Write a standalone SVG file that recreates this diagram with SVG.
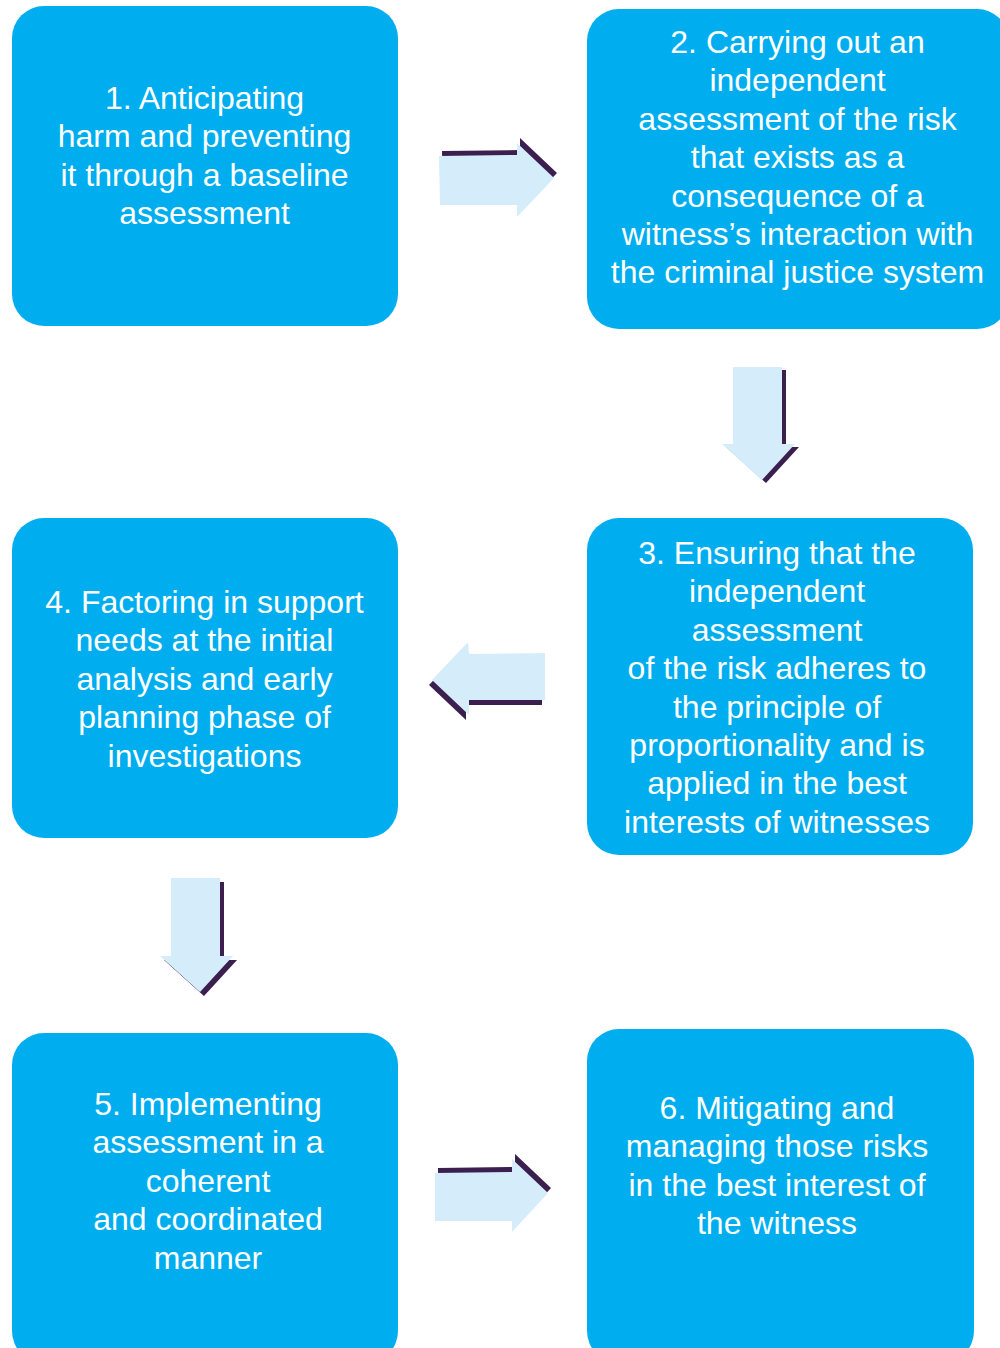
<svg xmlns="http://www.w3.org/2000/svg" width="1000" height="1348" viewBox="0 0 1000 1348">
  <style>
    .box { fill: #00AEEF; }
    .lbl { font-family: "Liberation Sans", Arial, Helvetica, sans-serif; font-size: 32px; fill: #FFFFFF; text-anchor: middle; }
    .arr { fill: #D5EDFA; }
    .shd { fill: #3B1F4E; }
  </style>
  <rect width="1000" height="1348" fill="#FFFFFF"/>

  <g id="connectors">
    <g id="arrow-1-2">
      <polygon class="shd" transform="translate(3,-5)" points="439,156 517,155 517,143 554,178 517,217 517,205 440,205"/>
      <polygon class="arr" points="439,156 517,155 517,143 554,178 517,217 517,205 440,205"/>
    </g>
    <g id="arrow-2-3">
      <polygon class="shd" transform="translate(4,3)" points="733,367 782,367 782,444 795,444 762,480 722,444 733,444"/>
      <polygon class="arr" points="733,367 782,367 782,444 795,444 762,480 722,444 733,444"/>
    </g>
    <g id="arrow-3-4">
      <polygon class="shd" transform="translate(-3,5)" points="545,653 469,654 468,642 432,680 469,715 469,700 545,700"/>
      <polygon class="arr" points="545,653 469,654 468,642 432,680 469,715 469,700 545,700"/>
    </g>
    <g id="arrow-4-5">
      <polygon class="shd" transform="translate(4,4)" points="171,878 220,878 220,956 233,956 200,992 160,956 171,956"/>
      <polygon class="arr" points="171,878 220,878 220,956 233,956 200,992 160,956 171,956"/>
    </g>
    <g id="arrow-5-6">
      <polygon class="shd" transform="translate(3,-5)" points="435,1173 512,1172 512,1159 548,1193 512,1232 512,1221 435,1221"/>
      <polygon class="arr" points="435,1173 512,1172 512,1159 548,1193 512,1232 512,1221 435,1221"/>
    </g>
  </g>

  <g id="node1">
    <rect class="box" x="12" y="6" width="386" height="320" rx="32" ry="32"/>
    <text class="lbl" x="204.5" y="109">1. Anticipating</text>
    <text class="lbl" x="204.5" y="147.4">harm and preventing</text>
    <text class="lbl" x="204.5" y="185.8">it through a baseline</text>
    <text class="lbl" x="204.5" y="224.2">assessment</text>
  </g>

  <g id="node2">
    <rect class="box" x="587" y="9" width="422" height="320" rx="32" ry="32"/>
    <text class="lbl" x="797.5" y="53">2. Carrying out an</text>
    <text class="lbl" x="797.5" y="91.4">independent</text>
    <text class="lbl" x="797.5" y="129.8">assessment of the risk</text>
    <text class="lbl" x="797.5" y="168.2">that exists as a</text>
    <text class="lbl" x="797.5" y="206.6">consequence of a</text>
    <text class="lbl" x="797.5" y="245">witness’s interaction with</text>
    <text class="lbl" x="797.5" y="283.4">the criminal justice system</text>
  </g>

  <g id="node3">
    <rect class="box" x="587" y="518" width="386" height="337" rx="32" ry="32"/>
    <text class="lbl" x="777" y="564">3. Ensuring that the</text>
    <text class="lbl" x="777" y="602.4">independent</text>
    <text class="lbl" x="777" y="640.8">assessment</text>
    <text class="lbl" x="777" y="679.2">of the risk adheres to</text>
    <text class="lbl" x="777" y="717.6">the principle of</text>
    <text class="lbl" x="777" y="756">proportionality and is</text>
    <text class="lbl" x="777" y="794.4">applied in the best</text>
    <text class="lbl" x="777" y="832.8">interests of witnesses</text>
  </g>

  <g id="node4">
    <rect class="box" x="12" y="518" width="386" height="320" rx="32" ry="32"/>
    <text class="lbl" x="204.5" y="613">4. Factoring in support</text>
    <text class="lbl" x="204.5" y="651.4">needs at the initial</text>
    <text class="lbl" x="204.5" y="689.8">analysis and early</text>
    <text class="lbl" x="204.5" y="728.2">planning phase of</text>
    <text class="lbl" x="204.5" y="766.6">investigations</text>
  </g>

  <g id="node5">
    <rect class="box" x="12" y="1033" width="386" height="330" rx="32" ry="32"/>
    <text class="lbl" x="208" y="1115">5. Implementing</text>
    <text class="lbl" x="208" y="1153.4">assessment in a</text>
    <text class="lbl" x="208" y="1191.8">coherent</text>
    <text class="lbl" x="208" y="1230.2">and coordinated</text>
    <text class="lbl" x="208" y="1268.6">manner</text>
  </g>

  <g id="node6">
    <rect class="box" x="587" y="1029" width="387" height="334" rx="32" ry="32"/>
    <text class="lbl" x="777" y="1119">6. Mitigating and</text>
    <text class="lbl" x="777" y="1157.4">managing those risks</text>
    <text class="lbl" x="777" y="1195.8">in the best interest of</text>
    <text class="lbl" x="777" y="1234.2">the witness</text>
  </g>
</svg>
